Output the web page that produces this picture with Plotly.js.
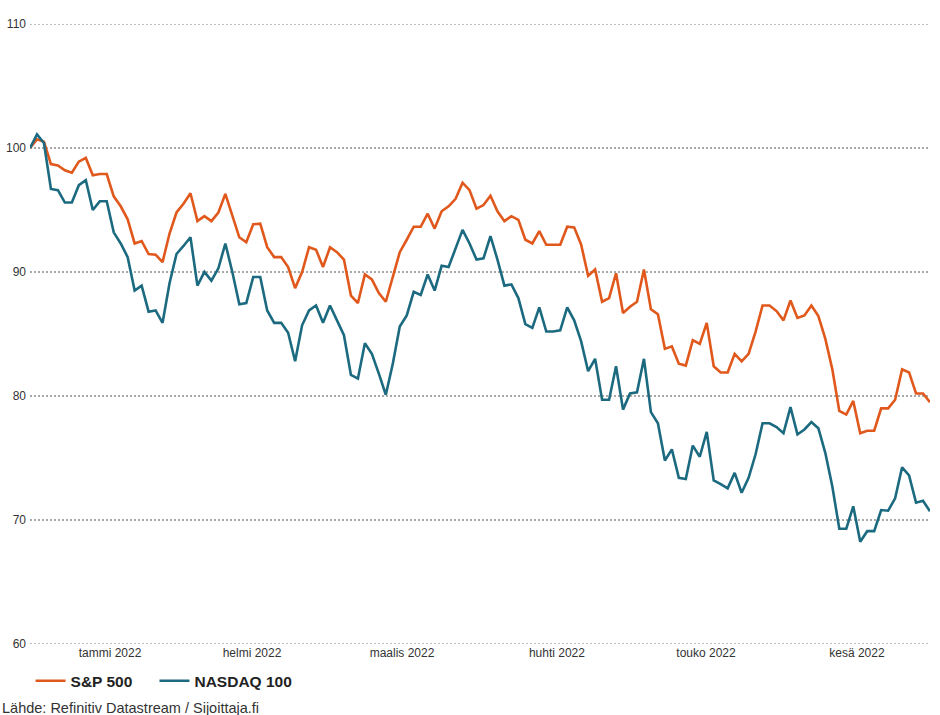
<!DOCTYPE html>
<html>
<head>
<meta charset="utf-8">
<script src="https://cdn.plot.ly/plotly-3.0.1.min.js"></script>
<style>
  html, body { margin: 0; padding: 0; background: #fff; }
  #chart { width: 940px; height: 715px; }
</style>
</head>
<body>
<div id="chart"></div>
<script>
// S&P 500 index (31.12.2021 = 100), one value per weekday 31.12.2021 - 30.6.2022
const sp500 = [
  100, 100.7, 100.5, 98.7, 98.6, 98.2, 98.0, 98.9, 99.2, 97.8,
  97.9, 97.9, 96.1, 95.3, 94.25, 92.3, 92.5, 91.45, 91.4, 90.8,
  93.1, 94.8, 95.5, 96.35, 94.1, 94.5, 94.1, 94.8, 96.3, 94.5,
  92.8, 92.4, 93.85, 93.9, 92.0, 91.2, 91.2, 90.4, 88.7, 90.0,
  92.0, 91.8, 90.4, 92.0, 91.6, 91.0, 88.1, 87.5, 89.8, 89.4,
  88.3, 87.6, 89.5, 91.6, 92.6, 93.65, 93.65, 94.7, 93.5, 94.9,
  95.3, 95.9, 97.2, 96.6, 95.1, 95.4, 96.15, 94.9, 94.1, 94.5,
  94.2, 92.6, 92.3, 93.3, 92.2, 92.2, 92.2, 93.65, 93.6, 92.2,
  89.7, 90.2, 87.6, 87.9, 89.9, 86.7, 87.2, 87.6, 90.2, 87.0,
  86.6, 83.8, 84.0, 82.6, 82.45, 84.5, 84.2, 85.9, 82.4, 81.9,
  81.9, 83.4, 82.8, 83.4, 85.2, 87.3, 87.3, 86.85, 86.1, 87.7,
  86.3, 86.5, 87.3, 86.45, 84.6, 82.15, 78.8, 78.5, 79.6, 77.0,
  77.2, 77.2, 79.0, 79.0, 79.7, 82.15, 81.9, 80.2, 80.2, 79.5
];
// NASDAQ 100 index (31.12.2021 = 100)
const nasdaq100 = [
  100, 101.1, 100.4, 96.7, 96.6, 95.6, 95.6, 97.0, 97.4, 95.0,
  95.7, 95.7, 93.2, 92.3, 91.2, 88.5, 88.9, 86.8, 86.9, 85.9,
  89.1, 91.45, 92.1, 92.8, 88.9, 90.0, 89.3, 90.3, 92.3, 90.0,
  87.4, 87.5, 89.6, 89.6, 86.9, 85.9, 85.9, 85.1, 82.8, 85.7,
  86.9, 87.3, 85.9, 87.3, 86.1, 84.9, 81.7, 81.4, 84.25, 83.4,
  81.8, 80.1, 82.6, 85.6, 86.5, 88.4, 88.15, 89.8, 88.5, 90.5,
  90.4, 91.9, 93.4, 92.3, 91.0, 91.1, 92.9, 91.0, 88.9, 89.0,
  87.9, 85.8, 85.5, 87.15, 85.2, 85.2, 85.3, 87.15, 86.1, 84.4,
  82.0, 83.0, 79.7, 79.7, 82.4, 78.9, 80.2, 80.3, 83.0, 78.7,
  77.8, 74.8, 75.7, 73.4, 73.3, 76.0, 75.1, 77.1, 73.2, 72.9,
  72.55, 73.8, 72.2, 73.4, 75.3, 77.8, 77.8, 77.5, 77.0, 79.1,
  76.9, 77.3, 77.9, 77.4, 75.4, 72.7, 69.3, 69.3, 71.1, 68.25,
  69.1, 69.1, 70.8, 70.75, 71.75, 74.25, 73.6, 71.4, 71.55, 70.7
];
// Month labels, placed at the middle of each month (weekday index)
const monthLabels = ["tammi 2022", "helmi 2022", "maalis 2022", "huhti 2022", "touko 2022", "kesä 2022"];
const monthCenters = [11.47, 31.82, 53.32, 75.53, 96.89, 118.53];
const yTicks = [60, 70, 80, 90, 100, 110];
const seriesNames = ["S&P 500", "NASDAQ 100"];
const seriesColors = ["#E0581C", "#1C6A80"];
const sourceText = "Lähde: Refinitiv Datastream / Sijoittaja.fi";

const xIdx = sp500.map((_, i) => i);
const yMin = yTicks[0], yMax = yTicks[yTicks.length - 1];
const legendIds = ["legend", "legend2"];

const traces = [sp500, nasdaq100].map((vals, k) => ({
  type: "scatter",
  mode: "lines",
  x: xIdx,
  y: vals,
  name: seriesNames[k],
  legend: legendIds[k],
  line: { color: seriesColors[k], width: 2.6 },
  hoverinfo: "skip"
}));

const gridStyle = { color: "#a8a8a8", width: 1.6, dash: "2px,2px" };

// gridlines on the range edges (Plotly omits them), drawn like the others
const edgeGrid = [yMin, yMax].map(v => ({
  type: "line", xref: "paper", yref: "y",
  x0: 0, x1: 1, y0: v, y1: v,
  line: gridStyle, layer: "below"
}));

const legendBase = {
  orientation: "h",
  xanchor: "left",
  y: -0.06,
  yanchor: "middle",
  font: { size: 15.5, color: "#222222", family: "Arial, 'Liberation Sans', sans-serif", weight: "bold" },
  bgcolor: "rgba(0,0,0,0)",
  itemclick: false
};

const layout = {
  width: 940,
  height: 715,
  margin: { l: 30, r: 10, t: 24, b: 71 },
  paper_bgcolor: "#ffffff",
  plot_bgcolor: "#ffffff",
  font: { family: "Arial, 'Liberation Sans', sans-serif", color: "#333333", size: 12 },
  showlegend: true,
  legend: Object.assign({}, legendBase, { x: 0.0006 }),
  legend2: Object.assign({}, legendBase, { x: 0.1383 }),
  xaxis: {
    range: [0, sp500.length - 1],
    tickmode: "array",
    tickvals: monthCenters,
    ticktext: monthLabels,
    showgrid: false,
    zeroline: false,
    showline: false,
    ticks: "",
    tickfont: { size: 12, color: "#333333" },
    fixedrange: true
  },
  yaxis: {
    range: [yMin, yMax],
    tickmode: "array",
    tickvals: yTicks,
    ticktext: yTicks.map(String),
    showgrid: true,
    gridcolor: gridStyle.color,
    gridwidth: gridStyle.width,
    griddash: gridStyle.dash,
    zeroline: false,
    showline: false,
    ticks: "",
    ticklabelstandoff: 3,
    tickfont: { size: 12, color: "#333333" },
    fixedrange: true
  },
  shapes: edgeGrid,
  annotations: [{
    text: sourceText,
    xref: "paper",
    yref: "paper",
    x: -30 / 900,
    xanchor: "left",
    y: -(708 - 644) / 620,
    yanchor: "middle",
    showarrow: false,
    font: { size: 14.5, color: "#333333" }
  }]
};

Plotly.newPlot("chart", traces, layout, { displayModeBar: false, staticPlot: true });
</script>
</body>
</html>
